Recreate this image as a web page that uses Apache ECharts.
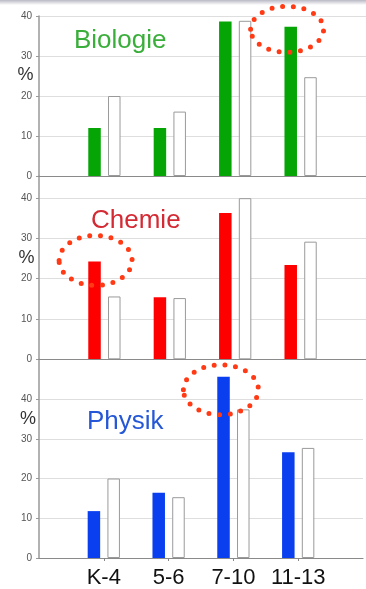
<!DOCTYPE html>
<html>
<head>
<meta charset="utf-8">
<script src="https://cdn.jsdelivr.net/npm/echarts@6/dist/echarts.min.js"></script>
<style>html,body{margin:0;padding:0;background:#fff}#c{width:366px;height:589px}</style>
</head>
<body>
<div id="c"></div>
<script>
const categories = ['K-4', '5-6', '7-10', '11-13'];
const subjects = ['Biologie', 'Chemie', 'Physik'];
const bioColored = [12, 12, 38.6, 37.3];
const bioWhite = [20, 16.1, 38.8, 24.7];
const chemColored = [24.3, 15.4, 36.3, 23.4];
const chemWhite = [15.6, 15.2, 40, 29.2];
const physColored = [11.8, 16.4, 45.6, 26.6];
const physWhite = [20, 15.3, 37.4, 27.7];
const yMax = [40, 45.5, 50];
const yInterval = 10;
// highlighted bars: [panel, category index]
const highlights = [[0, 3], [1, 0], [2, 2]];

const FONT = 'Liberation Sans, Arial, sans-serif';
const barColors = ['#05a505', '#ff0000', '#0a3ff0'];
const titleColors = ['#3aae3a', '#d42a34', '#2557d6'];
const colored = [bioColored, chemColored, physColored];
const white = [bioWhite, chemWhite, physWhite];

const pad = arr => ['-', ...arr, '-'];
const cats = ['', ...categories, ''];

const grids = [
  {left: 39, right: -4, top: 16, height: 160},
  {left: 39, right: -4, top: 176, height: 183.3},
  {left: 39, right: -4, top: 359.3, height: 199.7}
];

const xAxes = grids.map((g, i) => ({
  type: 'category', gridIndex: i, data: cats, boundaryGap: false, z: 5,
  axisLine: {lineStyle: {color: '#8a8a8a', width: 1.2}},
  axisTick: {show: i === 2, length: 3, lineStyle: {color: '#888'},
    interval: (idx) => idx >= 1 && idx <= categories.length},
  axisLabel: {show: i === 2, color: '#111', fontSize: 22, fontFamily: FONT, margin: 9,
    interval: 0},
  splitLine: {show: false}
}));

const yAxes = grids.map((g, i) => ({
  type: 'value', gridIndex: i, min: 0, max: yMax[i], interval: yInterval,
  axisLine: {show: true, lineStyle: {color: '#999', width: 1.5}},
  axisTick: {show: true, length: 3, lineStyle: {color: '#999'}},
  axisLabel: {color: '#555', fontSize: 10, fontFamily: FONT, margin: 7,
    formatter: v => (v % 10 === 0 && v <= 40) ? String(v) : ''},
  splitLine: {show: true, showMaxLine: i === 0, lineStyle: {color: '#dedede', width: 1}}
}));

const series = [];
for (let i = 0; i < 3; i++) {
  series.push({
    type: 'bar', xAxisIndex: i, yAxisIndex: i, data: pad(colored[i]),
    barWidth: 12.5, barGap: '58%',
    itemStyle: {color: barColors[i]}, silent: true
  });
  series.push({
    type: 'bar', xAxisIndex: i, yAxisIndex: i, data: pad(white[i]),
    barWidth: 12.5, barGap: '58%',
    itemStyle: {color: '#fff', borderColor: '#9a9a9a', borderWidth: 1}, silent: true
  });
}

const titlePos = [[74, 41], [91, 220.5], [87, 421.5]];
const pctPos = [[25.5, 75], [26.5, 258], [28, 419]];
const graphic = [
  {type: 'rect', shape: {x: 0, y: 0, width: 366, height: 5}, silent: true,
   style: {fill: new echarts.graphic.LinearGradient(0, 0, 0, 1, [
     {offset: 0, color: '#b9b9c6'}, {offset: 1, color: '#ffffff'}])}}
];
subjects.forEach((s, i) => {
  graphic.push({type: 'text', x: titlePos[i][0], y: titlePos[i][1], silent: true,
    style: {text: s, fill: titleColors[i], font: '26px ' + FONT, verticalAlign: 'middle'}});
  graphic.push({type: 'text', x: pctPos[i][0], y: pctPos[i][1], silent: true,
    style: {text: '%', fill: '#333', font: '18px ' + FONT, align: 'center', verticalAlign: 'middle'}});
});

const chart = echarts.init(document.getElementById('c'), null, {renderer: 'canvas'});
chart.setOption({
  animation: false,
  backgroundColor: '#fff',
  grid: grids, xAxis: xAxes, yAxis: yAxes, series: series, graphic: graphic
});

// dotted highlight ellipses positioned from the data via the library's scales
// offsets relative to the category tick / bar top: [dx, dy, rx, ry]
const ellipseOffsets = [[-13.5, 2.5, 36.5, 23], [-8.8, -1, 36.5, 25], [-12.5, 13, 37.5, 25]];
highlights.forEach((h, k) => {
  const [panel, ci] = h;
  const val = colored[panel][ci];
  const p = chart.convertToPixel({gridIndex: panel}, [ci + 1, val]);
  const o = ellipseOffsets[k];
  graphic.push({type: 'ellipse', silent: true, z: 100,
    shape: {cx: p[0] + o[0], cy: p[1] + o[1], rx: o[2], ry: o[3]},
    style: {fill: null, stroke: '#ff3a14', lineWidth: 5, lineCap: 'round', lineDash: [0, 10.7]}});
});
chart.setOption({graphic: graphic});
</script>
</body>
</html>
